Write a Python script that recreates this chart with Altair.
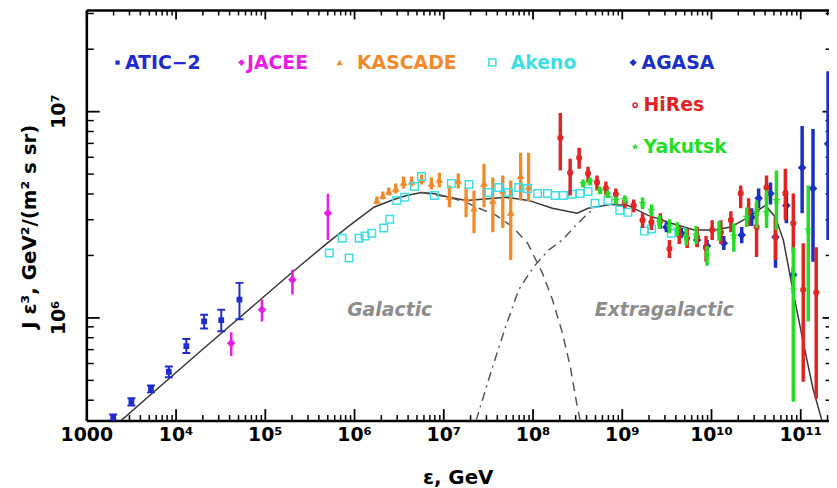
import altair as alt
import pandas as pd

# ---------------- values ----------------
ATIC_E = [2.0e3, 3.2e3, 5.3e3, 8.4e3, 1.32e4, 2.09e4, 3.25e4, 5.2e4]
ATIC_J = [3.27e5, 3.9e5, 4.5e5, 5.45e5, 7.26e5, 9.56e5, 9.7e5, 1.22e6]
ATIC_HI = [3.38e5, 4.06e5, 4.68e5, 5.78e5, 7.85e5, 1.03e6, 1.09e6, 1.47e6]
ATIC_LO = [3.16e5, 3.74e5, 4.33e5, 5.13e5, 6.72e5, 8.84e5, 8.56e5, 9.8e5]

JACEE_E = [4.2e4, 9.3e4, 2.04e5, 5.1e5]
JACEE_J = [7.5e5, 1.09e6, 1.52e6, 3.2e6]
JACEE_HI = [8.47e5, 1.22e6, 1.70e6, 3.98e6]
JACEE_LO = [6.49e5, 9.56e5, 1.29e6, 2.37e6]

KASCADE_E = [1.80e6, 2.10e6, 2.45e6, 2.93e6, 3.59e6, 4.41e6, 5.70e6, 7.36e6, 9.03e6, 1.17e7,
             1.47e7, 1.80e7, 2.21e7, 2.86e7, 3.59e7, 4.64e7, 5.70e7, 7.36e7, 9.03e7]
KASCADE_J = [3.69e6, 3.90e6, 4.08e6, 4.22e6, 4.51e6, 4.56e6, 4.66e6, 4.46e6, 4.66e6, 3.86e6,
             4.61e6, 3.78e6, 3.38e6, 4.46e6, 3.69e6, 4.12e6, 3.23e6, 4.87e6, 4.31e6]
KASCADE_HI = [3.86e6, 4.08e6, 4.26e6, 4.46e6, 4.82e6, 4.82e6, 4.93e6, 4.76e6, 5.03e6, 4.36e6,
              4.98e6, 4.26e6, 4.12e6, 5.56e6, 4.76e6, 4.87e6, 4.61e6, 6.28e6, 6.28e6]
KASCADE_LO = [3.53e6, 3.73e6, 3.90e6, 3.99e6, 4.22e6, 4.31e6, 4.41e6, 4.17e6, 4.26e6, 3.42e6,
              4.22e6, 3.06e6, 2.56e6, 3.42e6, 2.59e6, 2.71e6, 1.90e6, 3.69e6, 3.65e6]

AKENO_E = [5.28e5, 7.36e5, 8.80e5, 1.14e6, 1.33e6, 1.58e6, 2.15e6, 2.51e6, 3.01e6, 3.69e6,
           4.76e6, 5.70e6, 7.94e6, 1.23e7, 1.94e7, 3.24e7, 4.19e7, 5.41e7, 6.99e7, 8.80e7,
           1.14e8, 1.47e8, 1.80e8, 2.21e8, 2.78e8, 3.42e8, 4.19e8, 5.01e8, 6.99e8, 9.50e8,
           1.17e9, 1.80e9, 2.15e9, 3.59e9, 4.64e9]
AKENO_J = [2.05e6, 2.42e6, 1.94e6, 2.42e6, 2.48e6, 2.56e6, 2.71e6, 2.99e6, 3.69e6, 3.82e6,
           4.31e6, 4.82e6, 3.90e6, 4.46e6, 4.41e6, 4.03e6, 4.26e6, 4.03e6, 4.26e6, 4.21e6,
           3.99e6, 3.99e6, 3.90e6, 3.90e6, 3.95e6, 3.99e6, 4.08e6, 3.57e6, 3.69e6, 3.31e6,
           3.23e6, 2.62e6, 2.68e6, 2.56e6, 2.59e6]

HIRES_E = [2.05e8, 2.64e8, 3.33e8, 4.19e8, 5.28e8, 6.64e8, 8.58e8, 1.08e9, 1.36e9, 1.71e9,
           2.15e9, 2.71e9, 3.42e9, 4.41e9, 5.41e9, 6.99e9, 8.80e9, 1.03e10, 1.29e10, 1.67e10,
           2.15e10, 2.64e10, 3.24e10, 4.19e10, 5.28e10, 6.81e10, 8.36e10, 1.08e11, 1.51e11]
HIRES_J = [7.42e6, 5.03e6, 5.94e6, 4.98e6, 4.51e6, 4.22e6, 3.95e6, 3.61e6, 3.49e6, 2.96e6,
           2.89e6, 2.93e6, 2.15e6, 2.51e6, 2.42e6, 2.45e6, 2.17e6, 2.65e6, 2.59e6, 2.96e6,
           3.99e6, 3.23e6, 2.74e6, 4.26e6, 2.45e6, 3.99e6, 2.86e6, 1.36e6, 1.32e6]
HIRES_HI = [9.78e6, 5.88e6, 6.64e6, 5.38e6, 4.87e6, 4.56e6, 4.22e6, 3.86e6, 3.73e6, 3.20e6,
            3.13e6, 3.20e6, 2.37e6, 2.77e6, 2.68e6, 2.74e6, 2.48e6, 2.96e6, 2.96e6, 3.27e6,
            4.36e6, 3.78e6, 3.57e6, 4.87e6, 3.03e6, 5.26e6, 3.99e6, 2.29e6, 2.19e6]
HIRES_LO = [5.15e6, 3.90e6, 5.26e6, 4.51e6, 4.12e6, 3.90e6, 3.69e6, 3.38e6, 3.23e6, 2.71e6,
            2.65e6, 2.68e6, 1.94e6, 2.27e6, 2.17e6, 2.19e6, 1.86e6, 2.37e6, 2.27e6, 2.59e6,
            3.38e6, 2.77e6, 1.96e6, 3.69e6, 1.90e6, 2.96e6, 2.05e6, 4.87e5, 4.03e5]

YAKUTSK_E = [3.69e8, 4.41e8, 5.70e8, 6.99e8, 8.58e8, 1.08e9, 1.71e9, 2.15e9, 2.64e9, 3.42e9,
             4.19e9, 5.28e9, 6.81e9, 9.03e9, 1.23e10, 1.80e10, 2.51e10, 3.24e10, 4.19e10, 5.41e10,
             8.36e10, 1.23e11]
YAKUTSK_J = [4.46e6, 4.56e6, 4.12e6, 3.95e6, 3.69e6, 3.73e6, 3.57e6, 3.31e6, 2.89e6, 2.77e6,
             2.68e6, 2.45e6, 2.51e6, 2.0e6, 2.62e6, 2.48e6, 3.06e6, 3.23e6, 3.23e6, 3.69e6,
             1.36e6, 2.65e6]
YAKUTSK_HI = [4.66e6, 4.76e6, 4.31e6, 4.12e6, 3.86e6, 3.90e6, 3.82e6, 3.53e6, 3.13e6, 2.99e6,
              2.89e6, 2.68e6, 2.77e6, 2.22e6, 2.93e6, 2.86e6, 3.42e6, 3.69e6, 4.12e6, 5.15e6,
              2.19e6, 4.36e6]
YAKUTSK_LO = [4.26e6, 4.36e6, 3.95e6, 3.78e6, 3.53e6, 3.57e6, 3.34e6, 3.09e6, 2.68e6, 2.56e6,
              2.48e6, 2.24e6, 2.27e6, 1.78e6, 2.35e6, 2.08e6, 2.74e6, 2.71e6, 2.71e6, 2.65e6,
              3.90e5, 9.56e5]

AGASA_E = [3.16e9, 4.64e9, 6.99e9, 9.03e9, 1.39e10, 2.21e10, 2.86e10, 3.42e10, 4.64e10, 5.28e10,
           6.99e10, 8.36e10, 1.05e11, 1.39e11, 2.05e11]
AGASA_J = [2.74e6, 2.56e6, 2.37e6, 2.22e6, 2.29e6, 2.51e6, 3.06e6, 3.78e6, 3.99e6, 2.45e6,
           3.49e6, 1.61e6, 5.32e6, 4.22e6, 6.94e6]
AGASA_HI = [2.89e6, 2.71e6, 2.53e6, 2.37e6, 2.48e6, 2.74e6, 3.38e6, 4.22e6, 4.51e6, 3.06e6,
            4.12e6, 1.74e6, 8.47e6, 8.19e6, 1.56e7]
AGASA_LO = [2.59e6, 2.42e6, 2.22e6, 2.08e6, 2.12e6, 2.29e6, 2.77e6, 3.38e6, 3.53e6, 1.74e6,
            2.86e6, 1.49e6, 3.20e6, 1.86e6, 2.37e6]

MODEL_E = [2.45e3, 1.80e4, 8.36e4, 2.33e5, 5.01e5, 9.03e5, 1.67e6, 2.78e6, 3.88e6, 5.70e6,
           7.74e6, 1.17e7, 1.80e7, 2.51e7, 5.01e7, 9.03e7, 1.67e8, 3.16e8, 4.19e8, 7.74e8,
           1.17e9, 1.95e9, 3.59e9, 6.47e9, 1.08e10, 1.67e10, 2.51e10, 4.08e10, 5.27e10, 6.47e10,
           8.36e10, 1.08e11, 1.39e11, 1.75e11]
MODEL_J = [3.16e5, 6.72e5, 1.19e6, 1.74e6, 2.29e6, 2.80e6, 3.42e6, 3.73e6, 3.90e6, 4.03e6,
           3.99e6, 3.82e6, 3.69e6, 3.73e6, 3.82e6, 3.69e6, 3.38e6, 3.20e6, 3.38e6, 3.53e6,
           3.49e6, 3.13e6, 2.86e6, 2.65e6, 2.65e6, 2.74e6, 3.03e6, 3.49e6, 3.06e6, 2.37e6,
           1.32e6, 7.59e5, 4.51e5, 3.16e5]

GAL_E = [5.70e6, 1.17e7, 1.80e7, 2.51e7, 3.88e7, 6.0e7, 8.80e7, 1.29e8, 1.67e8, 2.15e8, 2.64e8, 3.16e8, 3.42e8]
GAL_J = [4.03e6, 3.82e6, 3.61e6, 3.38e6, 3.13e6, 2.74e6, 2.29e6, 1.64e6, 1.22e6, 8.47e5, 5.81e5, 3.73e5, 3.16e5]

EXG_E = [2.33e7, 3.59e7, 5.01e7, 6.99e7, 1.03e8, 1.51e8, 2.15e8, 3.01e8, 4.08e8, 5.01e8]
EXG_J = [3.16e5, 5.81e5, 9.05e5, 1.36e6, 1.76e6, 2.12e6, 2.37e6, 2.77e6, 3.16e6, 3.42e6]

ANNOT_TEXT = ["Galactic", "Extragalactic"]
ANNOT_E = [2.51e6, 3.0e9]
ANNOT_J = [1.09e6, 1.09e6]

X_TICK_LABELS = ["1000", "10⁴", "10⁵", "10⁶", "10⁷", "10⁸", "10⁹", "10¹⁰", "10¹¹"]
Y_TICK_LABELS = ["10⁶", "10⁷"]

# series: name, E, J, hi, lo
SERIES = [
    ("ATIC−2", ATIC_E, ATIC_J, ATIC_HI, ATIC_LO),
    ("JACEE", JACEE_E, JACEE_J, JACEE_HI, JACEE_LO),
    ("KASCADE", KASCADE_E, KASCADE_J, KASCADE_HI, KASCADE_LO),
    ("Akeno", AKENO_E, AKENO_J, None, None),
    ("AGASA", AGASA_E, AGASA_J, AGASA_HI, AGASA_LO),
    ("HiRes", HIRES_E, HIRES_J, HIRES_HI, HIRES_LO),
    ("Yakutsk", YAKUTSK_E, YAKUTSK_J, YAKUTSK_HI, YAKUTSK_LO),
]

# ---------------- styles ----------------
STAR = "M0,-1L0.24,-0.33L0.95,-0.31L0.38,0.12L0.59,0.81L0,0.4L-0.59,0.81L-0.38,0.12L-0.95,-0.31L-0.24,-0.33Z"
STYLE = {
    #            color      filled shape        size legsize bar  legX   legY  labOff
    "ATIC−2":  ("#1f2bd1", True,  "square",      34, 18, 2.0,  22.0, 43.5, -2),
    "JACEE":   ("#e61fe6", True,  "diamond",     75, 45, 2.6, 147.0, 43.5, -4),
    "KASCADE": ("#f08a2a", True,  "triangle-up", 60, 40, 3.3, 246.0, 43.5, 8),
    "Akeno":   ("#3fdde6", False, "square",      58, 50, 0.0, 400.0, 43.5, 9),
    "AGASA":   ("#1a2fc4", True,  "diamond",     75, 55, 3.5, 542.0, 43.5, -1),
    "HiRes":   ("#e02424", False, "circle",      22, 18, 3.5, 544.0, 86.5, -1),
    "Yakutsk": ("#26dd26", True,  STAR,          80, 55, 3.5, 544.0, 128.5, -1),
}

FONT = "DejaVu Sans"
W, H = 749, 414
X_DOMAIN = [1e3, 2.1e11]
Y_DOMAIN = [3.1623e5, 3.09e7]

X_MAJOR = [10.0 ** k for k in range(3, 12)]
X_MINOR = [m * 10.0 ** k for k in range(3, 12) for m in range(2, 10) if m * 10.0 ** k <= X_DOMAIN[1]]
Y_MAJOR = [1e6, 1e7]
Y_MINOR = [m * 10.0 ** k for k in range(5, 8) for m in range(2, 10)
           if Y_DOMAIN[0] <= m * 10.0 ** k <= Y_DOMAIN[1]]

XS = alt.Scale(type="log", domain=X_DOMAIN, nice=False)
YS = alt.Scale(type="log", domain=Y_DOMAIN, nice=False)


def lab_expr(labels, first_pow):
    arr = "[" + ",".join("'" + s + "'" for s in labels) + "]"
    return arr + "[round(log(datum.value)/LN10) - " + str(first_pow) + "]"


AX = dict(domainColor="black", tickColor="black", grid=False, labelColor="black",
          labelFont=FONT, labelFontSize=19, labelFontWeight="bold")

ax_bottom = alt.Axis(orient="bottom", values=X_MAJOR, labelExpr=lab_expr(X_TICK_LABELS, 3),
                     tickSize={"expr": "-12"}, tickWidth=1.8, domainWidth=2.6,
                     labelPadding=17, labelBaseline="top", labelFlush=False, labelOverlap=False,
                     title="ε, GeV", titleFont=FONT, titleFontSize=20, titleFontWeight="bold",
                     titleColor="black", titlePadding=24, **AX)
ax_bottom_minor = alt.Axis(orient="bottom", values=X_MINOR, labels=False, title="",
                           tickSize={"expr": "-6"}, tickWidth=1.5, domain=False, **AX)
ax_top = alt.Axis(orient="top", values=X_MAJOR, labels=False, title="",
                  tickSize={"expr": "-9"}, tickWidth=1.8, domainWidth=2.6, **AX)
ax_top_minor = alt.Axis(orient="top", values=X_MINOR, labels=False, title="",
                        tickSize={"expr": "-5"}, tickWidth=1.5, domain=False, **AX)

ax_left = alt.Axis(orient="left", values=Y_MAJOR, labelExpr=lab_expr(Y_TICK_LABELS, 6),
                   tickSize={"expr": "-13"}, tickWidth=1.8, domainWidth=2.6,
                   labelAngle=270, labelAlign="center", labelBaseline="bottom", labelPadding=31,
                   labelFlush=False, labelOverlap=False,
                   title="J ε³, GeV²/(m² s sr)", titleFont=FONT, titleFontSize=20,
                   titleFontWeight="bold", titleColor="black", titleAngle=270,
                   titleAlign="center", titleBaseline="alphabetic", titleX=-51, titleY=218, **AX)
ax_left_minor = alt.Axis(orient="left", values=Y_MINOR, labels=False, title="",
                         tickSize={"expr": "-7"}, tickWidth=1.5, domain=False, **AX)
ax_right = alt.Axis(orient="right", values=Y_MAJOR, labels=False, title="",
                    tickSize={"expr": "-7"}, tickWidth=1.8, domain=False, **AX)
ax_right_minor = alt.Axis(orient="right", values=Y_MINOR, labels=False, title="",
                          tickSize={"expr": "-4"}, tickWidth=1.5, domain=False, **AX)

# ---------------- layers ----------------
model_df = pd.DataFrame({"E": MODEL_E, "J": MODEL_J})
gal_df = pd.DataFrame({"E": GAL_E, "J": GAL_J})
exg_df = pd.DataFrame({"E": EXG_E, "J": EXG_J})
annot_df = pd.DataFrame({"text": ANNOT_TEXT, "E": ANNOT_E, "J": ANNOT_J})

model = alt.Chart(model_df).mark_line(color="#383838", strokeWidth=1.5, clip=True).encode(
    x=alt.X("E:Q", scale=XS, axis=ax_bottom),
    y=alt.Y("J:Q", scale=YS, axis=ax_left))
gal = alt.Chart(gal_df).mark_line(color="#555555", strokeWidth=1.5, strokeDash=[9, 6], clip=True).encode(
    x=alt.X("E:Q", scale=XS, axis=ax_bottom_minor),
    y=alt.Y("J:Q", scale=YS, axis=ax_left_minor))
exg = alt.Chart(exg_df).mark_line(color="#555555", strokeWidth=1.5, strokeDash=[9, 5, 2, 5], clip=True).encode(
    x=alt.X("E:Q", scale=XS, axis=ax_top),
    y=alt.Y("J:Q", scale=YS, axis=ax_right))
annot = alt.Chart(annot_df).mark_text(font=FONT, fontSize=19, fontStyle="italic", fontWeight="bold",
                                      color="#8c8c8c").encode(
    x=alt.X("E:Q", scale=XS, axis=ax_top_minor),
    y=alt.Y("J:Q", scale=YS, axis=ax_right_minor),
    text="text:N")

layers = [model, gal, exg, annot]
for name, E, J, HI, LO in SERIES:
    color, filled, shape, size, lsize, barw, lx, ly, loff = STYLE[name]
    df = pd.DataFrame({"series": name, "E": E, "J": J})
    if HI is not None:
        df["hi"] = HI
        df["lo"] = LO
        layers.append(alt.Chart(df).mark_rule(color=color, strokeWidth=barw, clip=True).encode(
            x=alt.X("E:Q", scale=XS, axis=None),
            y=alt.Y("lo:Q", scale=YS, axis=None), y2="hi:Q"))
        if name == "ATIC−2":
            caps = pd.DataFrame({"E": E + E, "J": HI + LO})
            layers.append(alt.Chart(caps).mark_tick(color=color, orient="horizontal", size=8,
                                                    thickness=2, opacity=1, clip=True).encode(
                x=alt.X("E:Q", scale=XS, axis=None),
                y=alt.Y("J:Q", scale=YS, axis=None)))
    leg = alt.Legend(title=None, orient="none", legendX=lx, legendY=ly, labelColor=color,
                     labelFont=FONT, labelFontSize=19, labelFontWeight="bold",
                     labelOffset={"expr": str(loff)},
                     symbolSize=lsize, symbolStrokeWidth=1.5, padding=0, labelLimit=300)
    layers.append(alt.Chart(df).mark_point(color=color, filled=filled, size=size, strokeWidth=1.5,
                                           opacity=1, clip=True).encode(
        x=alt.X("E:Q", scale=XS, axis=None),
        y=alt.Y("J:Q", scale=YS, axis=None),
        shape=alt.Shape("series:N", scale=alt.Scale(domain=[name], range=[shape]), legend=leg)))

chart = alt.layer(*layers).resolve_axis(
    x="independent", y="independent"
).resolve_scale(
    shape="independent"
).properties(
    width=W, height=H,
    autosize=alt.AutoSizeParams(type="none"),
    padding={"left": 79, "top": 0, "right": 0, "bottom": 66},
).configure_view(strokeWidth=0).configure(background="white")

chart.save("out.html", embed_options={"renderer": "svg", "actions": False})
